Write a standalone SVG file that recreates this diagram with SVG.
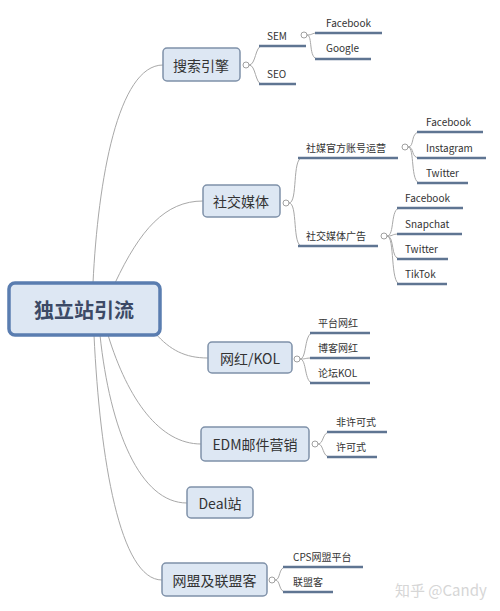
<svg xmlns="http://www.w3.org/2000/svg" width="500" height="611" viewBox="0 0 500 611">
<style>
.box{fill:#dde7f3;stroke:#7f91a9;stroke-width:1.5}
.root{fill:#dde7f3;stroke:#5a7db0;stroke-width:3.5}
.t{font-family:"Noto Sans CJK SC","Liberation Sans",sans-serif;fill:#333;}
.bt{font-size:14px;text-anchor:middle;dominant-baseline:central}
.st{font-size:10px}
.c{fill:none;stroke:#a8a8a8;stroke-width:1}
.u{fill:none;stroke:#5f7592;stroke-width:2.5}
.k{fill:#fff;stroke:#a0a0a0;stroke-width:1}
</style>
<rect width="500" height="611" fill="#fff"/>
<g id="connectors">
<path class="c" d="M93,283 C98,180 118,65 163,65"/>
<path class="c" d="M115,283 C140,230 165,201 203,201"/>
<path class="c" d="M155,333 C170,350 185,358 208,358"/>
<path class="c" d="M108,335 C128,400 160,444 201,444"/>
<path class="c" d="M100,335 C110,430 140,503 187,503"/>
<path class="c" d="M94,335 C100,460 120,580 162,580"/>
<!-- 搜索引擎 -->
<path class="c" d="M249,65 C256,65 255,46 262,46 M249,65 C256,65 255,84 262,84"/>
<path class="u" d="M259,46 H298 M259,84 H296"/>
<path class="c" d="M307,35 C313,35 311,33 318,33 M307,35 C313,35 308,59 318,59"/>
<path class="u" d="M298,46 H306 M315,33 H382 M315,59 H371"/>
<!-- 社交媒体 -->
<path class="c" d="M289,203 C298,203 292,158 302,158 M289,203 C298,203 292,246 302,246"/>
<path class="u" d="M298,158 H398 M298,246 H378"/>
<path class="c" d="M408,147 C415,147 410,132 420,132 M408,147 C415,147 410,158 420,158 M408,147 C415,147 410,183 420,183"/>
<path class="u" d="M417,132 H483 M417,158 H486 M417,183 H468"/>
<path class="c" d="M387,236 C395,236 390,208 400,208 M387,236 C395,236 390,234 400,234 M387,236 C395,236 390,259 400,259 M387,236 C395,236 390,284 400,284"/>
<path class="u" d="M397,208 H463 M397,234 H462 M397,259 H448 M397,284 H447"/>
<!-- 网红/KOL -->
<path class="c" d="M300,359 C307,359 304,333 313,333 M300,359 C307,359 304,358 313,358 M300,359 C307,359 304,383 313,383"/>
<path class="u" d="M310,333 H370 M310,358 H370 M310,383 H370"/>
<!-- EDM -->
<path class="c" d="M318,444 C324,444 322,432 330,432 M318,444 C324,444 322,457 330,457"/>
<path class="u" d="M327,432 H387 M327,457 H377"/>
<!-- 网盟 -->
<path class="c" d="M275,580 C281,580 278,567 286,567 M275,580 C281,580 278,592 286,592"/>
<path class="u" d="M283,567 H363 M283,592 H333"/>
</g>
<g id="root">
<rect class="root" x="9" y="283" width="151" height="52" rx="6"/>
<text class="t" x="84" y="309" font-size="20" font-weight="bold" fill="#3c4a66" style="fill:#3c4a66" text-anchor="middle" dominant-baseline="central">独立站引流</text>
</g>
<g id="n-search">
<rect class="box" x="163" y="48" width="77" height="33" rx="4"/>
<text class="t bt" x="201" y="64.5">搜索引擎</text>
<circle class="k" cx="246" cy="65" r="3"/>
</g>
<g id="n-sem"><text class="t st" x="267" y="40">SEM</text><circle class="k" cx="304" cy="35" r="3"/></g>
<g id="n-seo"><text class="t st" x="267" y="78">SEO</text></g>
<g id="n-sem-fb"><text class="t st" x="326" y="27">Facebook</text></g>
<g id="n-sem-g"><text class="t st" x="326" y="52">Google</text></g>
<g id="n-social">
<rect class="box" x="203" y="185" width="77" height="32" rx="4"/>
<text class="t bt" x="241" y="201">社交媒体</text>
<circle class="k" cx="286" cy="203" r="3"/>
</g>
<g id="n-official"><text class="t st" x="306" y="152">社媒官方账号运营</text><circle class="k" cx="405" cy="147" r="3"/></g>
<g id="n-off-fb"><text class="t st" x="426" y="126">Facebook</text></g>
<g id="n-off-ig"><text class="t st" x="426" y="152">Instagram</text></g>
<g id="n-off-tw"><text class="t st" x="426" y="177">Twitter</text></g>
<g id="n-ads"><text class="t st" x="306" y="240">社交媒体广告</text><circle class="k" cx="384" cy="236" r="3"/></g>
<g id="n-ads-fb"><text class="t st" x="405" y="202">Facebook</text></g>
<g id="n-ads-sc"><text class="t st" x="405" y="228">Snapchat</text></g>
<g id="n-ads-tw"><text class="t st" x="405" y="253">Twitter</text></g>
<g id="n-ads-tt"><text class="t st" x="405" y="278">TikTok</text></g>
<g id="n-kol">
<rect class="box" x="208" y="342" width="84" height="31" rx="4"/>
<text class="t bt" x="250" y="357.5">网红/KOL</text>
<circle class="k" cx="297" cy="359" r="3"/>
</g>
<g id="n-kol1"><text class="t st" x="318" y="327">平台网红</text></g>
<g id="n-kol2"><text class="t st" x="318" y="352">博客网红</text></g>
<g id="n-kol3"><text class="t st" x="318" y="377">论坛KOL</text></g>
<g id="n-edm">
<rect class="box" x="201" y="427" width="108" height="34" rx="4"/>
<text class="t bt" x="255" y="444">EDM邮件营销</text>
<circle class="k" cx="315" cy="444" r="3"/>
</g>
<g id="n-edm1"><text class="t st" x="336" y="426">非许可式</text></g>
<g id="n-edm2"><text class="t st" x="336" y="451">许可式</text></g>
<g id="n-deal">
<rect class="box" x="187" y="487" width="66" height="31" rx="4"/>
<text class="t bt" x="220" y="502.5">Deal站</text>
</g>
<g id="n-affiliate">
<rect class="box" x="162" y="563" width="105" height="33" rx="4"/>
<text class="t bt" x="214.5" y="579.5">网盟及联盟客</text>
<circle class="k" cx="272" cy="580" r="3"/>
</g>
<g id="n-aff1"><text class="t st" x="293" y="561">CPS网盟平台</text></g>
<g id="n-aff2"><text class="t st" x="293" y="586">联盟客</text></g>
<text x="395" y="596" font-family="Noto Sans CJK SC,Liberation Sans,sans-serif" font-size="15" fill="#d6d6d6">知乎 @Candy</text>
</svg>
